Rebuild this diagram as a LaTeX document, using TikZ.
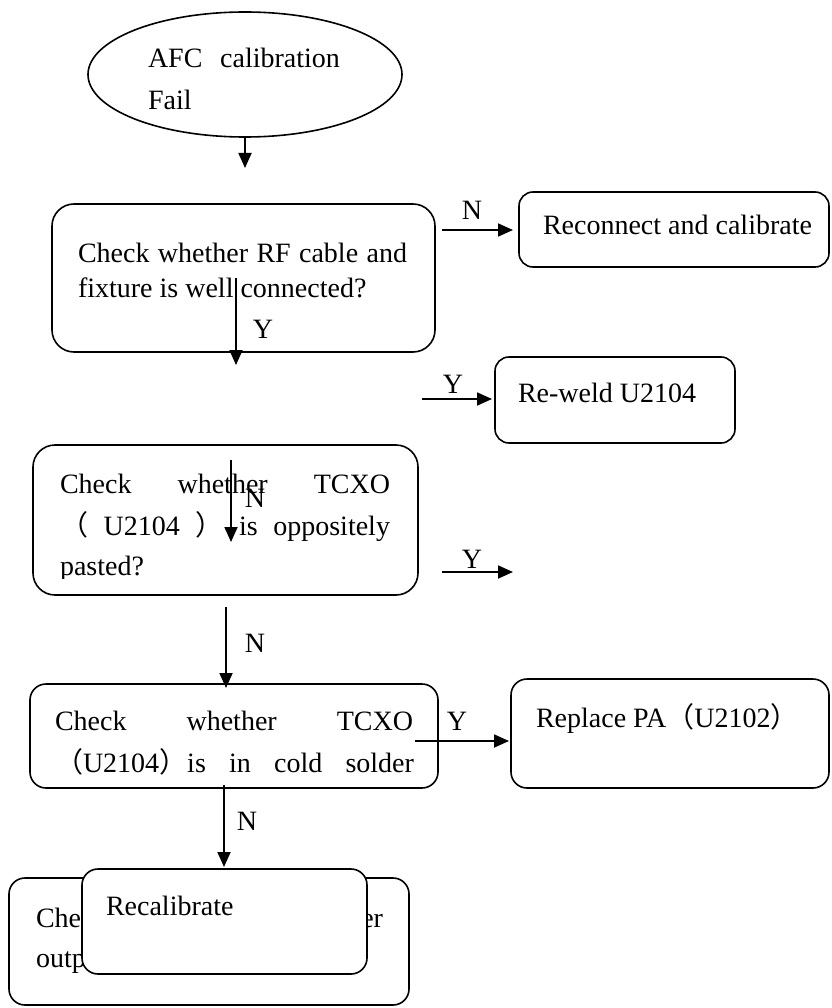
\documentclass[tikz,border=0pt]{standalone}
\usepackage{fontspec}
\setmainfont{Liberation Serif}
\newfontfamily\cjk{Noto Sans CJK SC}
\usetikzlibrary{arrows.meta,shapes.geometric}
% full-width parentheses
\newcommand{\lp}{{\cjk （}}
\newcommand{\rp}{{\cjk ）}}
\begin{document}
\begin{tikzpicture}[x=1pt,y=-1pt,
  every node/.style={inner sep=0pt,outer sep=0pt},
  frame/.style={draw,line width=1.6pt,rounded corners=#1},
  frame/.default=15pt,
  txt/.style={anchor=base west,font=\fontsize{28}{34}\selectfont},
  txtr/.style={anchor=base east,font=\fontsize{28}{34}\selectfont},
  lbl/.style={anchor=base,font=\fontsize{28}{34}\selectfont},
  flow/.style={line width=1.8pt,-{Triangle[length=15pt,width=13pt]}}]
\useasboundingbox (0,0) rectangle (831,1008);

% start terminal
\node[draw,line width=1.6pt,ellipse,minimum width=314pt,minimum height=125pt] (afc) at (245,74.5) {};
\node[txt] (afct1) at (148,68) {\makebox[192pt][s]{AFC calibration}};
\node[txt] (afct2) at (148,110) {Fail};

% first check
\node[frame=22pt,minimum width=383pt,minimum height=148pt] (chk1) at (243.5,278) {};
\node[txt] (chk1t1) at (78,262) {\makebox[329pt][s]{Check whether RF cable and}};
\node[txt] (chk1t2) at (78,297) {fixture is well connected?};

\node[frame=14pt,minimum width=310pt,minimum height=75pt] (recon) at (674,229.5) {};
\node[txt] (recont) at (543,235) {Reconnect and calibrate};

\node[frame=14pt,minimum width=240pt,minimum height=86pt] (reweld) at (615,400) {};
\node[txt] (reweldt) at (518,402) {Re-weld U2104};

% second check
\node[frame=22pt,minimum width=385pt,minimum height=150pt] (chk2) at (225.5,520) {};
\node[txt] (chk2t1) at (60,493) {\makebox[330pt][s]{Check whether TCXO}};
\node[txt] (chk2t2) at (60,535) {\makebox[330pt][s]{\lp{} U2104 \rp{} is oppositely}};
\begin{scope}
  \clip (0,440) rectangle (831,578);
  \node[txt] (chk2t3) at (60,575) {pasted?};
\end{scope}

% third check
\node[frame=16pt,minimum width=408pt,minimum height=104pt] (chk3) at (234,736) {};
\node[txt] (chk3t1) at (55,730) {\makebox[358pt][s]{Check whether TCXO}};
\node[txt] (chk3t2) at (55,772) {\makebox[359pt][s]{\lp U2104\rp is in cold solder}};

\node[frame=16pt,minimum width=318pt,minimum height=109pt] (repl) at (670,733.5) {};
\node[txt] (replt) at (536,727) {Replace PA\lp U2102\rp};

% fourth check, partly covered
\node[frame=16pt,minimum width=400pt,minimum height=127pt] (chk4) at (209,941.5) {};
\node[txt] (chk4t1) at (36,927) {Che};
\node[txtr] (chk4t2) at (383,927) {er};
\node[txt] (chk4t3) at (36,967) {outp};

\node[frame=16pt,fill=white,minimum width=285pt,minimum height=105pt] (recal) at (224.5,921.5) {};
\node[txt] (recalt) at (106,915) {Recalibrate};

% connector end points
\coordinate (a1e) at (245,168);
\coordinate (a2s) at (442,230);
\coordinate (a2e) at (513,230);
\coordinate (a3s) at (236,278);
\coordinate (a3e) at (236,365);
\coordinate (a4s) at (422,399);
\coordinate (a4e) at (492,399);
\coordinate (a5s) at (231,460);
\coordinate (a5e) at (231,542);
\coordinate (a6s) at (442,572);
\coordinate (a6e) at (513,572);
\coordinate (a7s) at (226,607);
\coordinate (a7e) at (226,688);
\coordinate (a8s) at (415,741);
\coordinate (a8e) at (509,741);
\coordinate (a9s) at (224,785);
\coordinate (a9e) at (224,867);

\draw[flow] (afc.south) -- (a1e);
\draw[flow] (a2s) -- (a2e);
\draw[flow] (a3s) -- (a3e);
\draw[flow] (a4s) -- (a4e);
\draw[flow] (a5s) -- (a5e);
\draw[flow] (a6s) -- (a6e);
\draw[flow] (a7s) -- (a7e);
\draw[flow] (a8s) -- (a8e);
\draw[flow] (a9s) -- (a9e);

% branch labels
\node[lbl] (l2) at (472,220) {N};
\node[lbl] (l3) at (263,338) {Y};
\node[lbl] (l4) at (453,393) {Y};
\node[lbl] (l5) at (255,507) {N};
\node[lbl] (l6) at (472,568) {Y};
\node[lbl] (l7) at (255,652) {N};
\node[lbl] (l8) at (457,730) {Y};
\node[lbl] (l9) at (247,830) {N};
\end{tikzpicture}
\end{document}
